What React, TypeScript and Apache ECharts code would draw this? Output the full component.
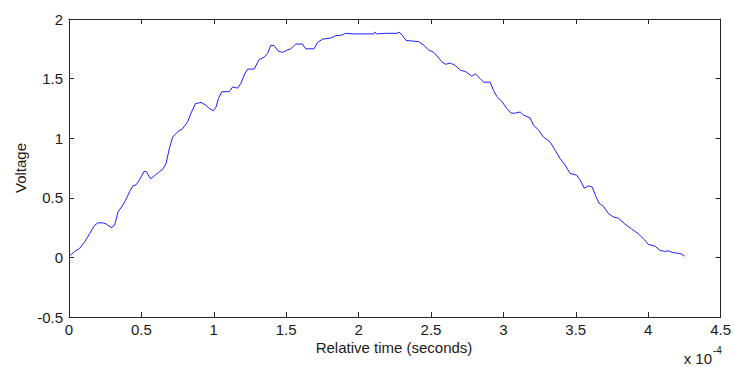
import { useEffect, useRef } from 'react';
import * as echarts from 'echarts';

// time in units of 1e-4 seconds
const timeE4 = [
  0, 0.04, 0.074, 0.108, 0.143, 0.177, 0.2, 0.234, 0.257, 0.292, 0.315, 0.338, 0.372, 0.395, 0.418,
  0.441, 0.464, 0.487, 0.517, 0.533, 0.563, 0.585, 0.625, 0.648, 0.671, 0.694, 0.716, 0.751, 0.785,
  0.82, 0.843, 0.873, 0.912, 0.941, 0.969, 0.997, 1.015, 1.033, 1.056, 1.107, 1.13, 1.164, 1.187,
  1.21, 1.233, 1.279, 1.313, 1.348, 1.371, 1.394, 1.417, 1.446, 1.474, 1.508, 1.532, 1.566, 1.612,
  1.635, 1.658, 1.692, 1.715, 1.749, 1.807, 1.842, 1.887, 1.91, 1.956, 2.105, 2.112, 2.125, 2.19,
  2.266, 2.28, 2.3, 2.328, 2.415, 2.45, 2.484, 2.519, 2.541, 2.576, 2.6, 2.634, 2.668, 2.703, 2.737,
  2.782, 2.806, 2.84, 2.863, 2.909, 2.932, 2.955, 2.989, 3.023, 3.054, 3.081, 3.116, 3.138, 3.185,
  3.207, 3.242, 3.276, 3.322, 3.357, 3.391, 3.426, 3.46, 3.506, 3.529, 3.559, 3.586, 3.614, 3.636,
  3.66, 3.69, 3.724, 3.758, 3.793, 3.839, 3.884, 3.93, 3.977, 4.0, 4.046, 4.08, 4.114, 4.137, 4.171,
  4.206, 4.228, 4.252,
];

const voltage = [
  0.01, 0.05, 0.077, 0.13, 0.2, 0.27, 0.29, 0.29, 0.28, 0.25, 0.27, 0.38, 0.44, 0.49, 0.55,
  0.6, 0.61, 0.65, 0.72, 0.72, 0.66, 0.68, 0.72, 0.74, 0.79, 0.92, 1.01, 1.055, 1.08,
  1.14, 1.21, 1.29, 1.3, 1.28, 1.25, 1.23, 1.26, 1.335, 1.39, 1.39, 1.43, 1.42, 1.46,
  1.53, 1.58, 1.58, 1.66, 1.68, 1.71, 1.78, 1.776, 1.73, 1.72, 1.74, 1.75, 1.79, 1.79,
  1.75, 1.75, 1.75, 1.8, 1.83, 1.84, 1.86, 1.866, 1.88, 1.875, 1.875, 1.89, 1.875, 1.88,
  1.88, 1.89, 1.866, 1.82, 1.81, 1.78, 1.74, 1.72, 1.69, 1.64, 1.62, 1.63, 1.61, 1.57, 1.56,
  1.52, 1.54, 1.5, 1.47, 1.47, 1.4, 1.35, 1.31, 1.25, 1.21, 1.21, 1.22, 1.195, 1.17,
  1.11, 1.07, 1.01, 0.97, 0.9, 0.83, 0.775, 0.705, 0.69, 0.65, 0.58, 0.6, 0.59, 0.52,
  0.455, 0.43, 0.37, 0.34, 0.33, 0.28, 0.24, 0.2, 0.145, 0.11, 0.095, 0.06, 0.05, 0.055, 0.04,
  0.035, 0.03, 0.01,
];

const xAxisRange = { min: 0, max: 4.5, interval: 0.5 };
const yAxisRange = { min: -0.5, max: 2, interval: 0.5 };
const xAxisTitle = 'Relative time (seconds)';
const yAxisTitle = 'Voltage';
const xMultiplierBase = 'x 10';
const xMultiplierExp = '-4';

const FONT = '"Liberation Sans", Arial, Helvetica, sans-serif';
const TEXT = '#1a1a1a';
const AXIS = '#262626';

export default function App() {
  const ref = useRef<HTMLDivElement>(null);

  useEffect(() => {
    if (!ref.current) return;
    const chart = echarts.init(ref.current, undefined, { renderer: 'svg' });
    const lineCfg = { show: true, lineStyle: { color: AXIS, width: 1 } };
    const tickCfg = { show: true, inside: true, length: 5, lineStyle: { color: AXIS, width: 1 } };
    const labelCfg = { color: TEXT, fontSize: 15, fontFamily: FONT };
    chart.setOption({
      animation: false,
      backgroundColor: '#ffffff',
      grid: { left: 69, right: 12, top: 19, bottom: 50, containLabel: false },
      xAxis: [
        {
          type: 'value',
          ...xAxisRange,
          position: 'bottom',
          axisLine: { ...lineCfg, onZero: false },
          axisTick: tickCfg,
          axisLabel: { ...labelCfg, margin: 5 },
          splitLine: { show: false },
        },
        {
          type: 'value',
          ...xAxisRange,
          position: 'top',
          axisLine: { ...lineCfg, onZero: false },
          axisTick: tickCfg,
          axisLabel: { show: false },
          splitLine: { show: false },
        },
      ],
      yAxis: [
        {
          type: 'value',
          ...yAxisRange,
          position: 'left',
          axisLine: { ...lineCfg, onZero: false },
          axisTick: tickCfg,
          axisLabel: { ...labelCfg, margin: 6 },
          splitLine: { show: false },
        },
        {
          type: 'value',
          ...yAxisRange,
          position: 'right',
          axisLine: { ...lineCfg, onZero: false },
          axisTick: tickCfg,
          axisLabel: { show: false },
          splitLine: { show: false },
        },
      ],
      series: [
        {
          type: 'line',
          xAxisIndex: 0,
          yAxisIndex: 0,
          data: timeE4.map((t, i) => [t, voltage[i]]),
          showSymbol: false,
          symbol: 'none',
          lineStyle: { color: '#1f1fff', width: 1 },
          silent: true,
        },
      ],
      graphic: [
        {
          type: 'text',
          x: 394,
          y: 347,
          style: {
            text: xAxisTitle,
            fill: TEXT,
            fontSize: 15,
            fontFamily: FONT,
            align: 'center',
            verticalAlign: 'middle',
          },
        },
        {
          type: 'text',
          x: 20,
          y: 168,
          rotation: Math.PI / 2,
          style: {
            text: yAxisTitle,
            fill: TEXT,
            fontSize: 15,
            fontFamily: FONT,
            align: 'center',
            verticalAlign: 'middle',
          },
        },
        {
          type: 'text',
          x: 712,
          y: 358,
          style: {
            text: xMultiplierBase,
            fill: TEXT,
            fontSize: 15,
            fontFamily: FONT,
            align: 'right',
            verticalAlign: 'middle',
          },
        },
        {
          type: 'text',
          x: 713,
          y: 350,
          style: {
            text: xMultiplierExp,
            fill: TEXT,
            fontSize: 10,
            fontFamily: FONT,
            align: 'left',
            verticalAlign: 'middle',
          },
        },
      ],
    });
    return () => chart.dispose();
  }, []);

  return (
    <div
      ref={ref}
      style={{ position: 'fixed', left: 0, top: 0, width: 734, height: 367, background: '#fff' }}
    />
  );
}
